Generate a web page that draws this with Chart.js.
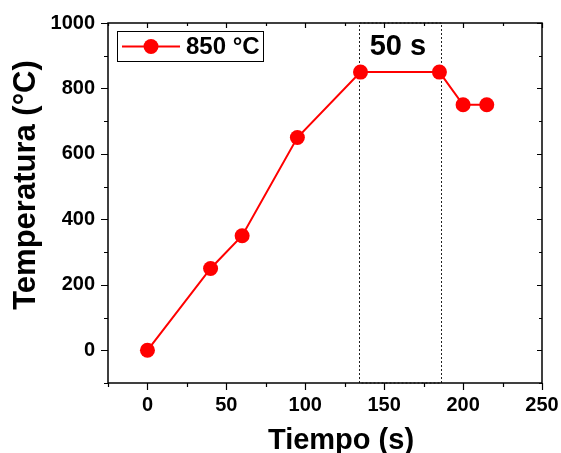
<!DOCTYPE html>
<html>
<head>
<meta charset="utf-8">
<script src="https://cdn.jsdelivr.net/npm/chart.js@4"></script>
<style>
  html, body { margin: 0; padding: 0; background: #fff; }
  #wrap { width: 561px; height: 453px; }
</style>
</head>
<body>
<div id="wrap"><canvas id="tratamientoChart" width="561" height="453"></canvas></div>
<script>
// Ciclo térmico: tiempo (s) vs temperatura (°C)
const tiempo = [0, 40, 60, 95, 135, 185, 200, 215];
const temperatura = [0, 250, 350, 650, 850, 850, 750, 750];
const xTicks = [0, 50, 100, 150, 200, 250];
const yTicks = [0, 200, 400, 600, 800, 1000];
const serieLabel = '850 °C';
const ventana = [134, 186];     // tramo de permanencia
const ventanaLabel = '50 s';

const FONT = "'Liberation Sans', Arial, sans-serif";
const ROJO = '#ff0000';

// marco, ticks, recuadro punteado, leyenda y títulos
const decoracion = {
    id: 'decoracion',
    beforeDatasetsDraw(chart) {
        const { ctx, chartArea: a, scales: { x } } = chart;
        ctx.save();
        ctx.strokeStyle = '#222';
        ctx.lineWidth = 1;
        ctx.setLineDash([2, 2]);
        const x0 = Math.round(x.getPixelForValue(ventana[0])) + 0.5;
        const x1 = Math.round(x.getPixelForValue(ventana[1])) + 0.5;
        ctx.strokeRect(x0, a.top, x1 - x0, a.bottom - a.top);
        ctx.restore();
    },
    afterDraw(chart) {
        const { ctx, chartArea: a, scales: { x, y } } = chart;
        ctx.save();
        ctx.strokeStyle = '#000';
        ctx.lineWidth = 1.5;
        ctx.strokeRect(a.left, a.top, a.right - a.left, a.bottom - a.top);

        ctx.lineWidth = 1.2;
        ctx.beginPath();
        for (let v = x.min; v <= x.max; v += 25) {
            const px = Math.round(x.getPixelForValue(v)) + 0.5;
            const major = xTicks.includes(v);
            ctx.moveTo(px, a.bottom);
            ctx.lineTo(px, a.bottom + (major ? 7 : 4));
            ctx.moveTo(px, a.top);
            ctx.lineTo(px, a.top + (major ? 5 : 3));
        }
        for (let v = y.min; v <= y.max; v += 100) {
            const py = Math.round(y.getPixelForValue(v)) + 0.5;
            const major = yTicks.includes(v);
            ctx.moveTo(a.left, py);
            ctx.lineTo(a.left - (major ? 7 : 4), py);
            ctx.moveTo(a.right, py);
            ctx.lineTo(a.right - (major ? 5 : 3), py);
        }
        ctx.stroke();

        // etiqueta del tramo de permanencia
        ctx.fillStyle = '#000';
        ctx.font = 'bold 29px ' + FONT;
        ctx.textAlign = 'center';
        ctx.textBaseline = 'middle';
        const xc = x.getPixelForValue((ventana[0] + ventana[1]) / 2);
        ctx.fillText(ventanaLabel, xc - 2, 47);

        // leyenda
        ctx.lineWidth = 1;
        ctx.strokeRect(117.5, 31.5, 146, 30);
        ctx.strokeStyle = ROJO;
        ctx.lineWidth = 2;
        ctx.beginPath();
        ctx.moveTo(122, 46.5);
        ctx.lineTo(180, 46.5);
        ctx.stroke();
        ctx.fillStyle = ROJO;
        ctx.beginPath();
        ctx.arc(151, 46.5, 7.5, 0, Math.PI * 2);
        ctx.fill();
        ctx.fillStyle = '#000';
        ctx.font = 'bold 24px ' + FONT;
        ctx.textAlign = 'left';
        ctx.fillText(serieLabel, 186, 47);

        // títulos de los ejes
        ctx.font = 'bold 29px ' + FONT;
        ctx.textAlign = 'center';
        ctx.textBaseline = 'alphabetic';
        ctx.fillText('Tiempo (s)', 341, 449);
        ctx.font = 'bold 31px ' + FONT;
        ctx.translate(35, 185);
        ctx.rotate(-Math.PI / 2);
        ctx.fillText('Temperatura (°C)', 0, 0);
        ctx.restore();
    }
};

const ctx = document.getElementById('tratamientoChart').getContext('2d');
const tratamientoChart = new Chart(ctx, {
    type: 'scatter',
    data: {
        datasets: [{
            label: serieLabel,
            data: tiempo.map((t, i) => ({ x: t, y: temperatura[i] })),
            showLine: true,
            borderColor: ROJO,
            borderWidth: 2,
            backgroundColor: ROJO,
            pointRadius: 7.5,
            pointBorderWidth: 0,
            pointBackgroundColor: ROJO
        }]
    },
    options: {
        responsive: false,
        animation: false,
        layout: { padding: { left: 0, top: 23, right: 19, bottom: 0 } },
        plugins: { legend: { display: false }, tooltip: { enabled: false } },
        scales: {
            x: {
                type: 'linear',
                min: -25,
                max: 250,
                afterBuildTicks: s => { s.ticks = xTicks.map(v => ({ value: v })); },
                afterFit: s => { s.height = 70; s.paddingLeft = 0; s.paddingRight = 0; },
                grid: { display: false, drawTicks: false },
                border: { display: false },
                ticks: {
                    color: '#000', padding: 10, maxRotation: 0,
                    font: { family: FONT, size: 20, weight: 'bold' },
                    callback: v => String(v)
                }
            },
            y: {
                type: 'linear',
                min: -100,
                max: 1000,
                afterBuildTicks: s => { s.ticks = yTicks.map(v => ({ value: v })); },
                afterFit: s => { s.width = 108; s.paddingTop = 0; s.paddingBottom = 0; },
                grid: { display: false, drawTicks: false },
                border: { display: false },
                ticks: {
                    color: '#000', padding: 13,
                    font: { family: FONT, size: 20, weight: 'bold' },
                    callback: v => String(v)
                }
            }
        }
    },
    plugins: [decoracion]
});
</script>
</body>
</html>
